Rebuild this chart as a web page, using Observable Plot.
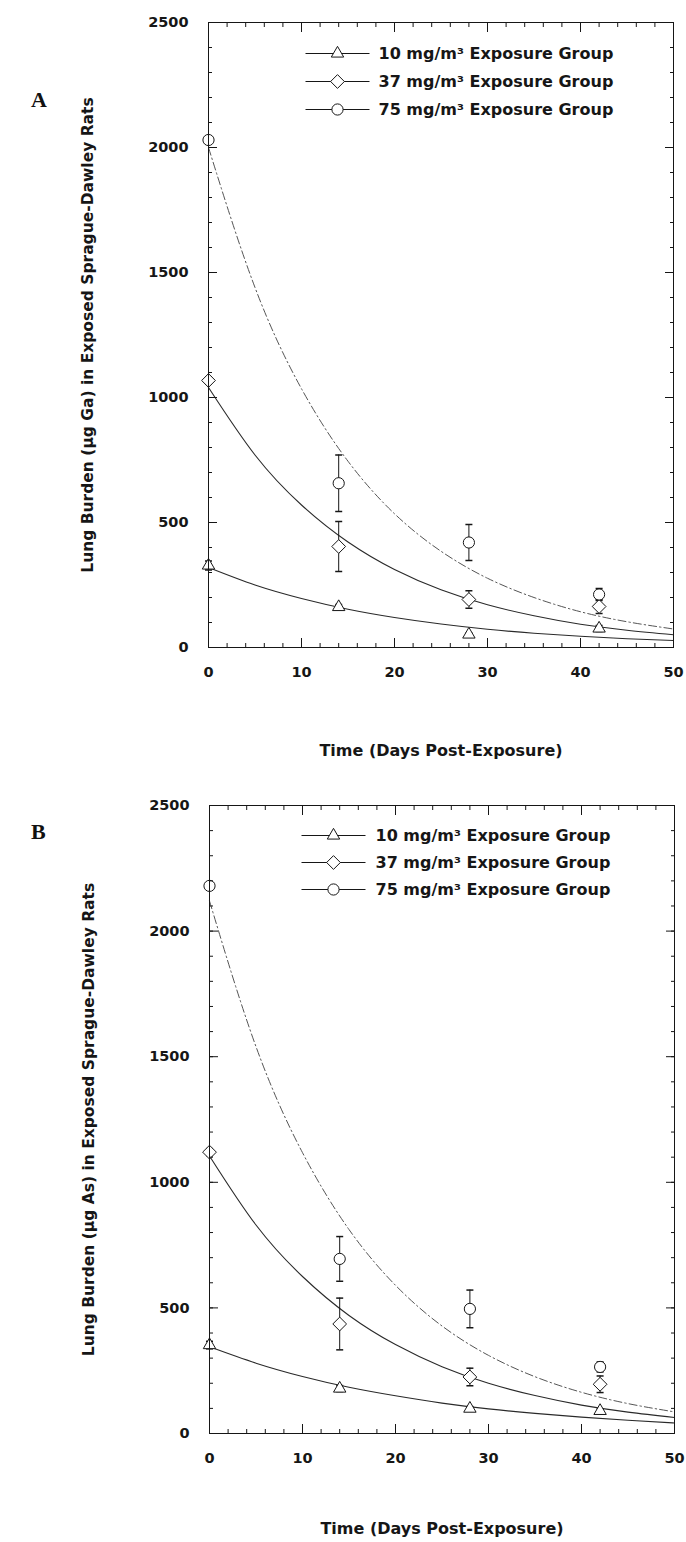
<!DOCTYPE html>
<html><head><meta charset="utf-8">
<script src="https://cdn.jsdelivr.net/npm/d3@7"></script>
<script src="https://cdn.jsdelivr.net/npm/@observablehq/plot@0.6"></script>
<style>
body{margin:0;background:#fff;width:686px;}
.panel{position:relative;width:686px;height:771px;overflow:hidden;}
.tag{position:absolute;font-family:"Liberation Serif","DejaVu Serif",serif;font-weight:bold;font-size:22px;color:#111;line-height:1;}
</style></head><body>
<div id="A" class="panel"><div class="tag" style="left:31px;top:89px">A</div></div>
<div id="B" class="panel"><div class="tag" style="left:31px;top:50px">B</div></div>
<script>
// ---- data ----
const days = [0, 14, 28, 42];
const fitDays = [0, 5, 10, 15, 20, 25, 30, 35, 40, 45, 50];
const groups = ["10 mg/m³ Exposure Group", "37 mg/m³ Exposure Group", "75 mg/m³ Exposure Group"];
const groupSymbols = ["triangle", "diamond2", "circle"];
const yTicks = [0, 500, 1000, 1500, 2000, 2500];
const yMinorTicks = [0,100,200,300,400,500,600,700,800,900,1000,1100,1200,1300,1400,1500,1600,1700,1800,1900,2000,2100,2200,2300,2400,2500];
const xTicks = [0, 10, 20, 30, 40, 50];
const xMinorTicks = [0,2,4,6,8,10,12,14,16,18,20,22,24,26,28,30,32,34,36,38,40,42,44,46,48,50];
const xTitle = "Time (Days Post-Exposure)";

// Panel A: gallium
const gaTitle = "Lung Burden (µg Ga) in Exposed Sprague-Dawley Rats";
const ga10 = [328, 162, 52, 76];
const ga10Err = [18, 10, 6, 12];
const ga37 = [1068, 404, 192, 164];
const ga37Err = [14, 100, 35, 28];
const ga75 = [2030, 657, 420, 212];
const ga75Err = [14, 113, 72, 24];
const gaFit10 = [320, 250, 196, 153, 120, 94, 73, 57, 45, 35, 28];
const gaFit37 = [1040, 770, 570, 422, 312, 231, 171, 127, 93, 69, 51];
const gaFit75 = [2000, 1440, 1035, 745, 535, 385, 277, 200, 143, 103, 74];

// Panel B: arsenic
const asTitle = "Lung Burden (µg As) in Exposed Sprague-Dawley Rats";
const as10 = [352, 179, 99, 90];
const as10Err = [15, 12, 8, 8];
const as37 = [1120, 436, 225, 196];
const as37Err = [14, 103, 35, 33];
const as75 = [2180, 695, 496, 265];
const as75Err = [14, 89, 75, 20];
const asFit10 = [345, 280, 227, 184, 150, 121, 98, 80, 65, 53, 42];
const asFit37 = [1105, 830, 625, 470, 354, 266, 200, 151, 113, 85, 64];
const asFit75 = [2120, 1540, 1118, 812, 590, 428, 311, 226, 164, 119, 86];

const ink = "#161616";
const symbolR = [4.6, 6.2, 5.6];
const capSym = {draw(ctx) { ctx.moveTo(-3.5, 0); ctx.lineTo(3.5, 0); }};
const segSym = {draw(ctx) { ctx.moveTo(-32, 0); ctx.lineTo(32, 0); }};
const plain = d => String(d);

function drawPanel(id, cfg) {
  const obs = [];
  cfg.means.forEach((m, gi) => m.forEach((v, i) => obs.push({g: gi, t: days[i], v, e: cfg.errs[gi][i]})));
  const fits = [];
  cfg.fits.forEach((f, gi) => f.forEach((v, i) => fits.push({g: gi, t: fitDays[i], v})));

  const tickMarks = [
    ...["left", "right"].flatMap(a => [
      Plot.axisY(yMinorTicks, {anchor: a, tickSize: -4, tickFormat: () => "", label: null, stroke: ink}),
      Plot.axisY(yTicks, {anchor: a, tickSize: -9, tickFormat: () => "", label: null, stroke: ink})
    ]),
    ...["top", "bottom"].flatMap(a => [
      Plot.axisX(xMinorTicks, {anchor: a, tickSize: -4, tickFormat: () => "", label: null, stroke: ink}),
      Plot.axisX(xTicks, {anchor: a, tickSize: -9, tickFormat: () => "", label: null, stroke: ink})
    ])
  ];

  const legend = groups.flatMap((g, i) => [
    Plot.dot([g], {frameAnchor: "top-left", dx: cfg.lx, dy: cfg.ly + i * cfg.lstep, symbol: segSym, stroke: ink, fill: "none", strokeWidth: 1}),
    Plot.dot([g], {frameAnchor: "top-left", dx: cfg.lx, dy: cfg.ly + i * cfg.lstep, symbol: groupSymbols[i], r: symbolR[i], fill: "white", stroke: ink, strokeWidth: 1}),
    Plot.text([g], {frameAnchor: "top-left", dx: cfg.tx, dy: cfg.ly + i * cfg.lstep, text: d => d, textAnchor: "start", lineAnchor: "middle", fontSize: 16})
  ]);

  const dataMarks = [
    Plot.line(fits.filter(d => d.g < 2), {x: "t", y: "v", z: "g", curve: "natural", stroke: "#2a2a2a", strokeWidth: 1.1}),
    Plot.line(fits.filter(d => d.g === 2), {x: "t", y: "v", curve: "natural", stroke: "#555", strokeWidth: 1, strokeDasharray: "8,3,1.5,3"}),
    Plot.ruleX(obs, {x: "t", y1: d => d.v - d.e, y2: d => d.v + d.e, stroke: ink, strokeWidth: 1}),
    Plot.dot(obs, {x: "t", y: d => d.v + d.e, symbol: capSym, stroke: ink, fill: "none"}),
    Plot.dot(obs, {x: "t", y: d => d.v - d.e, symbol: capSym, stroke: ink, fill: "none"}),
    ...groupSymbols.map((s, gi) => Plot.dot(obs.filter(d => d.g === gi), {x: "t", y: "v", symbol: s, r: symbolR[gi], fill: "white", stroke: ink, strokeWidth: 1}))
  ];

  const chart = Plot.plot({
    width: 686,
    height: 771,
    marginTop: cfg.mt,
    marginBottom: cfg.mb,
    marginLeft: cfg.ml,
    marginRight: cfg.mr,
    style: {fontFamily: "'DejaVu Sans', sans-serif", fontWeight: "bold", fontSize: "14.5px", color: ink, background: "transparent"},
    x: {domain: [0, 50], label: null},
    y: {domain: [0, 2500], label: null},
    marks: [
      ...dataMarks,
      ...tickMarks,
      Plot.frame({stroke: ink, strokeWidth: 1}),
      Plot.axisY(yTicks, {anchor: "left", tickSize: 0, tickPadding: 20, tickFormat: plain, label: null}),
      Plot.axisX(xTicks, {anchor: "bottom", tickSize: 0, tickPadding: 19, tickFormat: plain, label: null}),
      Plot.text([cfg.yTitle], {frameAnchor: "left", dx: -120, rotate: -90, text: d => d, textAnchor: "middle", lineAnchor: "middle", fontSize: 15.5}),
      Plot.text([xTitle], {frameAnchor: "bottom", dy: cfg.xdy, text: d => d, textAnchor: "middle", fontSize: 16, lineAnchor: "middle"}),
      ...legend
    ]
  });
  chart.style.position = "absolute";
  chart.style.left = "0px";
  chart.style.top = "0px";
  document.getElementById(id).prepend(chart);
}

drawPanel("A", {
  means: [ga10, ga37, ga75], errs: [ga10Err, ga37Err, ga75Err], fits: [gaFit10, gaFit37, gaFit75],
  yTitle: gaTitle, mt: 22, mb: 124, ml: 208, mr: 13, xdy: 103,
  lx: 129, tx: 170, ly: 31, lstep: 28
});
drawPanel("B", {
  means: [as10, as37, as75], errs: [as10Err, as37Err, as75Err], fits: [asFit10, asFit37, asFit75],
  yTitle: asTitle, mt: 34, mb: 109, ml: 209, mr: 12, xdy: 95,
  lx: 124, tx: 166, ly: 30, lstep: 27
});
</script>
</body></html>
